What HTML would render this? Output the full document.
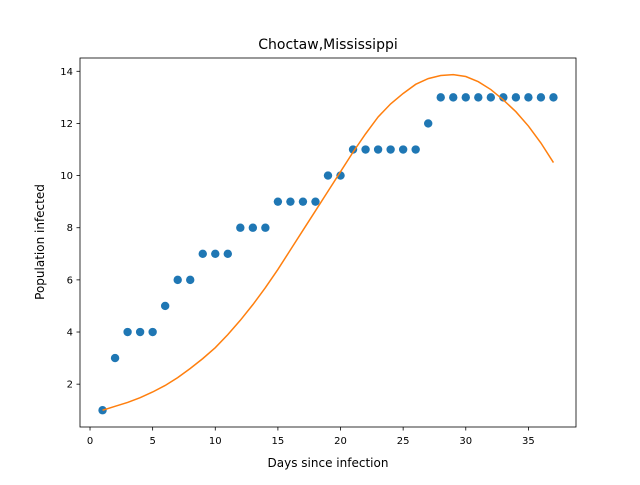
<!DOCTYPE html>
<html><head><meta charset="utf-8"><style>
body{margin:0;background:#fff;}
svg{font-family:"DejaVu Sans","Liberation Sans",sans-serif;}
</style></head><body>
<svg id="chart" width="640" height="480" viewBox="0 0 640 480">
<rect width="640" height="480" fill="#fff"/>
<text x="328" y="49" font-size="14" text-anchor="middle">Choctaw,Mississippi</text>
<g id="xticks"></g><g id="yticks"></g>
<g id="series"></g>
<rect x="80" y="58" width="496" height="369" fill="none" stroke="#000" stroke-width="0.8"/>
<text x="328" y="467" font-size="12" text-anchor="middle">Days since infection</text>
<text transform="translate(44,242) rotate(-90)" font-size="12" text-anchor="middle">Population infected</text>
</svg>
<script>
const days=[1,2,3,4,5,6,7,8,9,10,11,12,13,14,15,16,17,18,19,20,21,22,23,24,25,26,27,28,29,30,31,32,33,34,35,36,37];
const infected=[1,3,4,4,4,5,6,6,7,7,7,8,8,8,9,9,9,9,10,10,11,11,11,11,11,11,12,13,13,13,13,13,13,13,13,13,13];
const fitted=[1.0,1.15,1.3,1.48,1.7,1.95,2.25,2.6,2.98,3.4,3.9,4.45,5.05,5.7,6.4,7.15,7.9,8.65,9.4,10.15,10.9,11.6,12.25,12.75,13.15,13.5,13.72,13.84,13.87,13.8,13.6,13.3,12.9,12.45,11.9,11.25,10.5];
const xTicks=[0,5,10,15,20,25,30,35];
const yTicks=[2,4,6,8,10,12,14];
const NS="http://www.w3.org/2000/svg";
const xMin=-0.8,xMax=38.8,yMin=0.357,yMax=14.51;
const X=v=>80+(v-xMin)/(xMax-xMin)*496;
const Y=v=>427-(v-yMin)/(yMax-yMin)*369;
function mk(t,a,p){const e=document.createElementNS(NS,t);for(const k in a)e.setAttribute(k,a[k]);p.appendChild(e);return e;}
const xt=document.getElementById('xticks'),yt=document.getElementById('yticks'),se=document.getElementById('series');
xTicks.forEach(v=>{
 const l=mk('line',{x1:X(v),x2:X(v),y1:427,y2:430.5,stroke:'#000','stroke-width':0.8},xt);
 
 
 const t=mk('text',{x:X(v),y:444,'font-size':10,'text-anchor':'middle'},xt);t.textContent=v;
 
 
});
yTicks.forEach(v=>{
 const l=mk('line',{x1:76.5,x2:80,y1:Y(v),y2:Y(v),stroke:'#000','stroke-width':0.8},yt);
 
 
 const t=mk('text',{x:73,y:Y(v)+3.5,'font-size':10,'text-anchor':'end'},yt);t.textContent=v;
 
 
});
days.forEach((d,i)=>{
 const c=mk('circle',{cx:X(d),cy:Y(infected[i]),r:4.2,fill:'#1f77b4'},se);
 
 
});
const p=mk('polyline',{points:days.map((d,i)=>X(d)+','+Y(fitted[i])).join(' '),fill:'none',stroke:'#ff7f0e','stroke-width':1.5},se);


</script>
</body></html>
